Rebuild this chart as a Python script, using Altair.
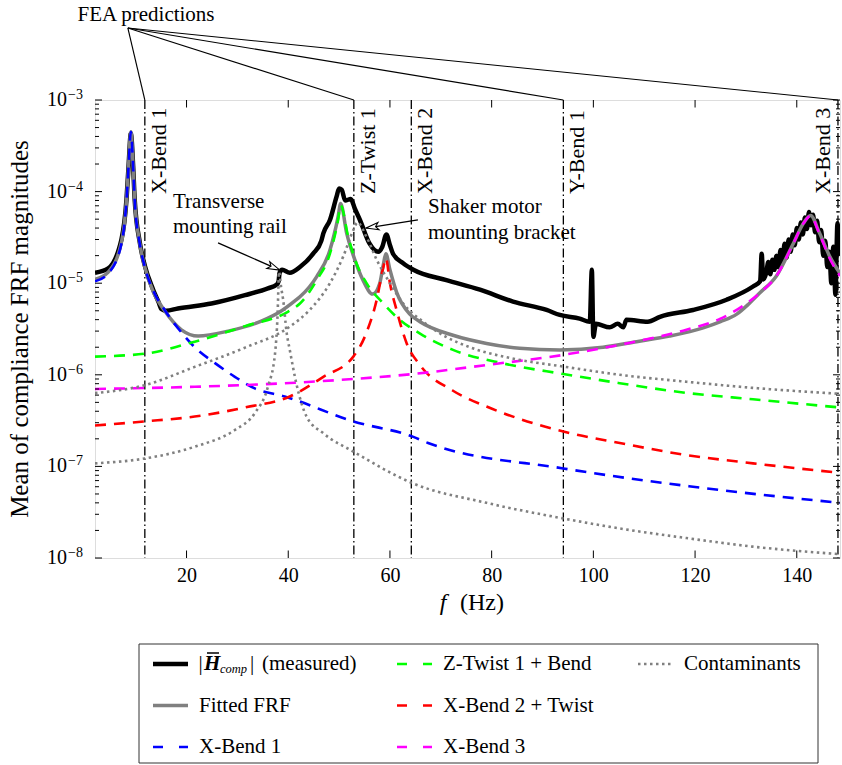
import altair as alt
import pandas as pd

FONT = "Liberation Serif"
W, H = 745, 458

# ---------------- values ----------------
# measured |H_comp| (noisy thick black curve)
meas_f = [2.0, 4.6, 7.2, 8.2, 8.6, 9.05, 9.5, 9.8, 10.8, 11.8,
          13.4, 14.5, 15.1, 16.0, 18.3, 24.9, 31.5, 36.0, 37.7, 38.1,
          38.3, 38.8, 40.3, 42.3, 44.9, 46.5, 46.9, 48.2, 49.5, 50.0,
          50.5, 51.2, 52.3, 53.1, 54.1, 56.0, 57.7, 58.5, 59.3, 60.0,
          60.6, 62.6, 64.6, 71.1, 77.7, 84.2, 90.8, 93.4, 97.3, 99.3,
          99.7, 100.0, 100.5, 103.2, 104.8, 105.9, 106.5, 110.7, 113.1, 119.6,
          126.2, 131.4, 132.8, 133.1, 133.4,
          134.0, 134.4, 134.8, 135.2, 135.6, 136.0, 136.4, 136.8, 137.2, 137.6,
          138.0, 138.4, 138.8, 139.2, 139.6, 140.0, 140.4, 140.8, 141.2, 141.6,
          142.0, 142.4, 142.8, 143.2, 143.6, 144.0, 144.4, 144.8, 145.2, 145.6,
          146.0, 146.4, 146.8, 147.2, 147.6, 148.0, 148.4]
meas_h = [1.3e-5, 1.45e-5, 3.0e-5, 8.3e-5, 1.9e-4, 4.3e-4, 1.9e-4, 8.3e-5, 2.8e-5, 1.55e-5,
          8.6e-6, 6.2e-6, 5.2e-6, 5.0e-6, 5.3e-6, 6.0e-6, 7.4e-6, 8.8e-6, 9.6e-6, 1.05e-5,
          1.3e-5, 1.4e-5, 1.3e-5, 1.5e-5, 2.1e-5, 2.9e-5, 3.5e-5, 4.9e-5, 8.8e-5, 1.08e-4,
          1.05e-4, 8.0e-5, 8.3e-5, 6.5e-5, 4.9e-5, 2.7e-5, 2.2e-5, 2.5e-5, 3.4e-5, 2.6e-5,
          2.1e-5, 1.65e-5, 1.4e-5, 1.08e-5, 8.5e-6, 6.3e-6, 5.1e-6, 4.5e-6, 4.1e-6, 3.8e-6,
          1.4e-5, 2.6e-6, 3.6e-6, 3.3e-6, 3.6e-6, 3.3e-6, 4.0e-6, 3.8e-6, 4.3e-6, 5.1e-6,
          6.6e-6, 9.2e-6, 1.05e-5, 2.1e-5, 1.1e-5,
          1.3e-5, 1.7e-5, 1.25e-5, 1.8e-5, 1.4e-5, 2.0e-5, 1.5e-5, 2.3e-5, 1.7e-5, 2.7e-5,
          1.9e-5, 3.0e-5, 2.2e-5, 3.4e-5, 2.6e-5, 4.0e-5, 3.0e-5, 4.6e-5, 3.4e-5, 5.2e-5,
          3.9e-5, 6.0e-5, 4.3e-5, 5.6e-5, 3.6e-5, 4.8e-5, 2.8e-5, 3.8e-5, 2.0e-5, 2.9e-5,
          1.5e-5, 2.2e-5, 1.0e-5, 2.5e-5, 7.5e-6, 4.5e-5, 2.0e-5]

# fitted FRF (grey)
fit_f = [2.0, 4.6, 7.2, 8.2, 8.6, 9.05, 9.5, 9.8, 10.8, 11.8,
         13.4, 15.7, 19.0, 22.3, 28.2, 34.7, 38.7, 41.3, 42.3, 45.6,
         48.2, 49.8, 50.3, 51.5, 53.1, 54.7, 56.6, 58.0, 58.7, 59.2,
         60.0, 61.3, 63.9, 65.9, 72.4, 79.0, 85.5, 93.4, 101.9, 108.5,
         115.0, 121.6, 125.0, 128.2, 130.5, 132.7, 136.0, 139.3, 141.3, 142.7,
         144.5, 146.5, 148.5]
fit_h = [1.1e-5, 1.32e-5, 2.8e-5, 8.2e-5, 1.9e-4, 4.5e-4, 1.9e-4, 8.2e-5, 2.75e-5, 1.5e-5,
         8.2e-6, 5.0e-6, 3.1e-6, 2.65e-6, 3.0e-6, 3.85e-6, 5.0e-6, 6.4e-6, 7.1e-6, 1.18e-5,
         2.3e-5, 5.3e-5, 7.4e-5, 3.5e-5, 1.8e-5, 1.08e-5, 7.6e-6, 1.0e-5, 1.6e-5, 2.1e-5,
         1.4e-5, 8.0e-6, 4.6e-6, 3.8e-6, 2.7e-6, 2.2e-6, 1.95e-6, 1.87e-6, 2.0e-6, 2.3e-6,
         2.65e-6, 3.25e-6, 3.8e-6, 4.6e-6, 5.9e-6, 7.8e-6, 1.2e-5, 2.7e-5, 4.5e-5, 5.5e-5,
         3.5e-5, 1.95e-5, 1.28e-5]

# X-Bend 1 (blue)
xb1_f = [2.0, 4.6, 7.2, 8.2, 8.6, 9.05, 9.5, 9.8, 10.8, 11.8, 13.4, 15.7,
         19.0, 21.6, 25.6, 29.5, 33.4, 39.3, 52.8, 64.6, 67.5, 94.1, 119.6, 148.5]
xb1_h = [1.05e-5, 1.28e-5, 2.7e-5, 8.1e-5, 1.87e-4, 4.5e-4, 1.87e-4, 8.1e-5, 2.7e-5, 1.5e-5, 8.4e-6, 5.1e-6,
         2.9e-6, 2.0e-6, 1.34e-6, 9.5e-7, 7.1e-7, 5.8e-7, 3.1e-7, 2.1e-7, 1.8e-7, 9.5e-8, 6.0e-8, 4.0e-8]

# Z-Twist 1 + Bend (green)
zt_f = [2.0, 11.8, 21.6, 31.5, 40.0, 42.3, 45.6, 48.2, 49.8, 50.3, 51.8, 53.4,
        55.4, 58.7, 61.9, 66.0, 72.4, 82.3, 94.1, 105.2, 118.3, 131.4, 148.5]
zt_h = [1.58e-6, 1.7e-6, 2.3e-6, 3.4e-6, 4.9e-6, 6.0e-6, 1.08e-5, 2.1e-5, 4.9e-5, 7.1e-5, 3.2e-5, 1.65e-5,
        1.0e-5, 6.0e-6, 4.0e-6, 2.8e-6, 1.87e-6, 1.33e-6, 1.02e-6, 8.1e-7, 6.35e-7, 5.4e-7, 4.4e-7]

# X-Bend 2 + Twist (red)
xb2_f = [2.0, 11.8, 21.6, 31.5, 40.3, 46.9, 52.8, 55.4, 57.4, 58.7, 59.2, 60.0,
         61.3, 63.3, 65.9, 72.4, 79.0, 85.5, 94.1, 105.2, 118.3, 131.4, 148.5]
xb2_h = [2.8e-7, 3.1e-7, 3.5e-7, 4.4e-7, 5.8e-7, 9.5e-7, 1.58e-6, 2.9e-6, 6.6e-6, 1.5e-5, 1.87e-5, 1.0e-5,
         5.1e-6, 2.2e-6, 1.28e-6, 6.7e-7, 4.5e-7, 3.3e-7, 2.4e-7, 1.8e-7, 1.33e-7, 1.08e-7, 8.5e-8]

# X-Bend 3 (magenta)
xb3_f = [2.0, 21.6, 41.3, 52.8, 64.6, 79.0, 94.1, 106.5, 118.3, 125.0, 129.5, 132.7, 136.0,
         139.3, 141.3, 142.7, 144.5, 146.5, 148.5]
xb3_h = [7.0e-7, 7.4e-7, 8.2e-7, 9.0e-7, 1.02e-6, 1.28e-6, 1.65e-6, 2.2e-6, 3.1e-6, 4.1e-6, 5.7e-6, 7.8e-6, 1.2e-5,
         2.7e-5, 4.5e-5, 5.4e-5, 3.4e-5, 1.85e-5, 1.2e-5]

# contaminants (grey dotted): transverse mounting rail, shaker motor bracket
rail_f = [2.0, 11.8, 21.6, 29.5, 33.4, 36.0, 37.4, 37.9, 38.2, 38.6, 39.0, 39.7,
          40.3, 41.6, 43.6, 46.9, 52.8, 64.6, 79.0, 94.1, 105.2, 118.3, 131.4, 148.5]
rail_h = [1.08e-7, 1.22e-7, 1.64e-7, 2.5e-7, 3.8e-7, 7.4e-7, 1.7e-6, 4.5e-6, 1.33e-5, 9.0e-6, 6.6e-6, 2.85e-6,
          1.87e-6, 8.0e-7, 3.5e-7, 2.3e-7, 1.45e-7, 6.5e-8, 4.0e-8, 2.7e-8, 2.1e-8, 1.65e-8, 1.33e-8, 1.1e-8]
brk_f = [2.0, 11.8, 21.6, 31.5, 40.3, 44.2, 48.2, 50.8, 52.8, 53.6, 55.4, 57.4,
         60.0, 62.6, 66.5, 71.0, 75.7, 84.3, 94.1, 105.2, 118.3, 131.4, 148.5]
brk_h = [6.3e-7, 7.7e-7, 1.22e-6, 1.98e-6, 3.35e-6, 5.1e-6, 1.0e-5, 1.95e-5, 3.8e-5, 4.6e-5, 3.2e-5, 1.8e-5,
         1.0e-5, 6.0e-6, 3.8e-6, 2.6e-6, 2.0e-6, 1.5e-6, 1.23e-6, 1.0e-6, 8.4e-7, 7.2e-7, 6.2e-7]

# FEA predicted modes
fea_f = [11.8, 52.9, 64.2, 94.1, 148.1]
fea_labels = ["X-Bend 1", "Z-Twist 1", "X-Bend 2", "Y-Bend 1", "X-Bend 3"]
fea_pointer_from = 8.46          # frequency under the "FEA predictions" label
fea_pointer_to = [11.8, 52.9, 94.1, 148.1]

# axis ticks
x_ticks = [20, 40, 60, 80, 100, 120, 140]
y_major = [1e-3, 1e-4, 1e-5, 1e-6, 1e-7, 1e-8]
y_exp = ["\u22123", "\u22124", "\u22125", "\u22126", "\u22127", "\u22128"]
y_minor = [m * d for d in [1e-8, 1e-7, 1e-6, 1e-5, 1e-4] for m in range(2, 10)]

# ---------------- scales / helpers ----------------
xs = alt.Scale(domain=[2, 148.5], nice=False, zero=False)
ys = alt.Scale(type="log", domain=[1e-8, 1e-3], nice=False)
xaxis = alt.Axis(values=x_ticks, labelFont=FONT, labelFontSize=20, labelColor="black",
                 ticks=False, domain=False, grid=False, labelPadding=7, title=None,
                 format="d")
XF = alt.X("f:Q", scale=xs, axis=xaxis)
YH = alt.Y("H:Q", scale=ys, axis=None)
one = pd.DataFrame({"k": [0]})

GREY = "#808080"
DASH = [11, 8]
DOT = [2.5, 3.5]
DASHDOT = [9, 3, 1.5, 3]


def curve(f, h, color, width, dash=None, join="round"):
    df = pd.DataFrame({"f": f, "H": h})
    mk = dict(color=color, strokeWidth=width, interpolate="monotone", clip=True,
              strokeJoin=join)
    if dash:
        mk["strokeDash"] = dash
    return alt.Chart(df).mark_line(**mk).encode(x=XF, y=YH)


def txt(s, x, y, size=21, **kw):
    return alt.Chart(one).mark_text(text=s, font=FONT, fontSize=size, color="black",
                                    clip=False, **kw).encode(x=alt.value(x), y=alt.value(y))


def seg(x1, y1, x2, y2, **kw):
    return alt.Chart(one).mark_rule(clip=False, **kw).encode(
        x=alt.value(x1), y=alt.value(y1), x2=alt.value(x2), y2=alt.value(y2))


ARROW = "M0,0L0.5,1.7L0,1.3L-0.5,1.7Z"


def arrow(f0, h0, f1, h1, ang):
    df = pd.DataFrame({"f": [f0], "H": [h0], "f2": [f1], "H2": [h1]})
    ln = alt.Chart(df).mark_rule(color="black", strokeWidth=1.3, clip=False).encode(
        x=XF, y=YH, x2="f2:Q", y2="H2:Q")
    hd = alt.Chart(pd.DataFrame({"f": [f1], "H": [h1]})).mark_point(
        shape=ARROW, size=220, angle=ang, filled=True, fill="white", stroke="black",
        strokeWidth=1.1, opacity=1, clip=False).encode(x=XF, y=YH)
    return [ln, hd]


layers = []

# FEA vertical dash-dot lines
fea_df = pd.DataFrame({"f": fea_f, "label": fea_labels})
layers.append(alt.Chart(fea_df).mark_rule(color="black", strokeWidth=1.3,
                                          strokeDash=DASHDOT).encode(
    x=XF, y=alt.value(0), y2=alt.value(H)))

# curves
layers.append(curve(meas_f, meas_h, "black", 4.5))
layers.append(curve(fit_f, fit_h, GREY, 3.5))
layers.append(curve(xb1_f, xb1_h, "#0000ff", 2.6, DASH))
layers.append(curve(zt_f, zt_h, "#00ff00", 2.6, DASH))
layers.append(curve(xb2_f, xb2_h, "#ff0000", 2.6, DASH))
layers.append(curve(xb3_f, xb3_h, "#ff00ff", 2.6, DASH))
layers.append(curve(rail_f, rail_h, GREY, 2.6, DOT))
layers.append(curve(brk_f, brk_h, GREY, 2.6, DOT))

# FEA labels (rotated)
layers.append(alt.Chart(fea_df[fea_df.label != "X-Bend 3"]).mark_text(
    angle=270, align="left", baseline="top", dy=4, font=FONT, fontSize=22,
    color="black").encode(x=XF, y=alt.value(94), text="label:N"))
layers.append(alt.Chart(fea_df[fea_df.label == "X-Bend 3"]).mark_text(
    angle=270, align="left", baseline="alphabetic", dy=-8, font=FONT, fontSize=22,
    color="black").encode(x=XF, y=alt.value(94), text="label:N"))

# FEA pointer lines + label
ptr_df = pd.DataFrame({"f": [fea_pointer_from] * len(fea_pointer_to), "f2": fea_pointer_to})
layers.append(alt.Chart(ptr_df).mark_rule(color="black", strokeWidth=1.1, clip=False).encode(
    x=XF, x2="f2:Q", y=alt.value(-72), y2=alt.value(0)))
layers.append(txt("FEA predictions", 51, -85, 21))

# annotations
layers.append(txt("Transverse", 78, 102, 21, align="left"))
layers.append(txt("mounting rail", 78, 127, 21, align="left"))
layers += arrow(26.2, 2.75e-5, 38.35, 1.39e-5, 113.5)
layers.append(txt("Shaker motor", 333, 107, 21, align="left"))
layers.append(txt("mounting bracket", 333, 133, 21, align="left"))
layers += arrow(65.5, 4.9e-5, 55.3, 4.0e-5, 261.3)

# inward ticks
ymaj = pd.DataFrame({"H": y_major, "e": y_exp})
ymin = pd.DataFrame({"H": y_minor})
for d, ln in [(ymaj, 7), (ymin, 4)]:
    layers.append(alt.Chart(d).mark_rule(color="black", strokeWidth=1).encode(
        y=YH, x=alt.value(0), x2=alt.value(ln)))
    layers.append(alt.Chart(d).mark_rule(color="black", strokeWidth=1).encode(
        y=YH, x=alt.value(W), x2=alt.value(W - ln)))
xt = pd.DataFrame({"f": x_ticks})
layers.append(alt.Chart(xt).mark_rule(color="black", strokeWidth=1).encode(
    x=XF, y=alt.value(H), y2=alt.value(H - 7.5)))
layers.append(alt.Chart(xt).mark_rule(color="black", strokeWidth=1).encode(
    x=XF, y=alt.value(0), y2=alt.value(7.5)))

# y tick labels 10^k
layers.append(alt.Chart(ymaj).mark_text(text="10", font=FONT, fontSize=20, align="right",
                                        color="black", clip=False).encode(
    y=YH, x=alt.value(-28)))
layers.append(alt.Chart(ymaj).mark_text(font=FONT, fontSize=14, align="left", dy=-5,
                                        color="black", clip=False).encode(
    y=YH, x=alt.value(-27), text="e:N"))

# axis titles
layers.append(txt("f", 348, 503, 24, fontStyle="italic"))
layers.append(txt("(Hz)", 365, 503, 24, align="left"))
layers.append(txt("Mean of compliance FRF magnitudes", -75, 229, 25, angle=270))

# legend
layers.append(alt.Chart(one).mark_rect(fill="white", stroke="#333333", strokeWidth=1,
                                       clip=False).encode(
    x=alt.value(44), x2=alt.value(723), y=alt.value(544), y2=alt.value(663)))
legend_items = [
    # (symbol x, row y, colour, width, dash, label)
    (58, 564, "black", 4.5, None, None),
    (58, 605.5, GREY, 3.5, None, "Fitted FRF"),
    (58, 647, "#0000ff", 2.6, [10, 16], "X-Bend 1"),
    (302, 564, "#00ff00", 2.6, [10, 16], "Z-Twist 1 + Bend"),
    (302, 605.5, "#ff0000", 2.6, [10, 16], "X-Bend 2 + Twist"),
    (302, 647, "#ff00ff", 2.6, [10, 16], "X-Bend 3"),
    (543, 564, GREY, 2.6, DOT, "Contaminants"),
]
for sx, sy, col, wd, dsh, lab in legend_items:
    kw = dict(color=col, strokeWidth=wd)
    if dsh:
        kw["strokeDash"] = dsh
    layers.append(seg(sx, sy, sx + 35, sy, **kw))
    if lab:
        layers.append(txt(lab, sx + 46, sy, 21, align="left"))
# measured label: |H̄_comp| (measured)
layers.append(txt("|", 103.5, 564, 21, align="left"))
layers.append(txt("H", 109, 564, 21, align="left", fontStyle="italic", fontWeight="bold"))
layers.append(seg(112, 553, 124, 553, color="black", strokeWidth=1.5))
layers.append(txt("comp", 125, 569, 12.5, align="left", fontStyle="italic"))
layers.append(txt("|", 155, 564, 21, align="left"))
layers.append(txt("(measured)", 167, 564, 21, align="left"))

chart = alt.layer(*layers).properties(
    width=W, height=H,
    autosize=alt.AutoSizeParams(type="none"),
    padding={"left": 95, "top": 100, "right": 2, "bottom": 207},
).configure_view(stroke="black", strokeWidth=1).configure(font=FONT)

chart.save("out.html", embed_options={"renderer": "svg", "actions": False})
